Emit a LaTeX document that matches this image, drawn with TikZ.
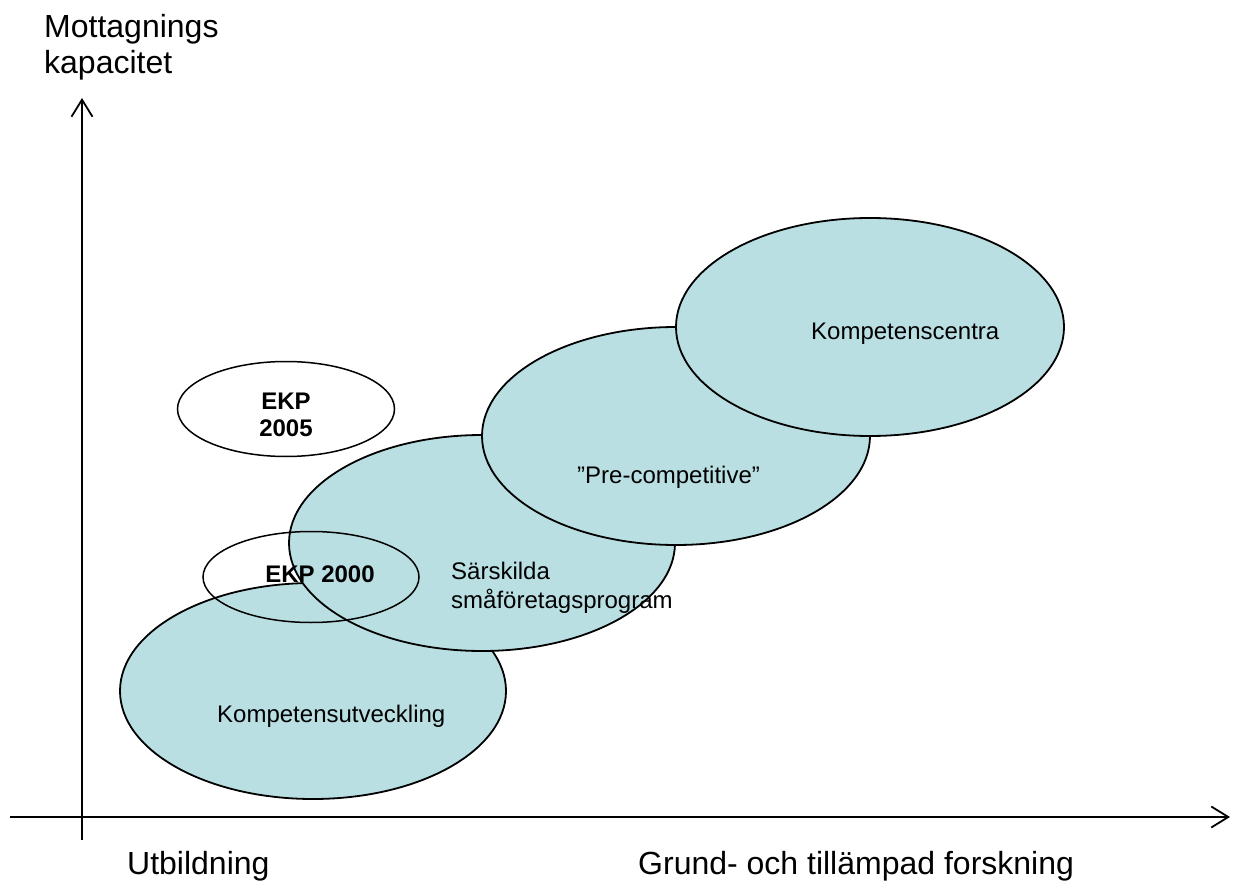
\documentclass[tikz,border=0pt]{standalone}
\usepackage{fontspec}
\setmainfont{Liberation Sans}
\usetikzlibrary{shapes.geometric,arrows.meta}
\definecolor{areafill}{RGB}{185,223,227}
\begin{document}
\begin{tikzpicture}[x=1pt,y=-1pt,
  axis/.style={line width=1.8pt,-{Straight Barb[length=17pt,width=21pt,line width=1.8pt]}},
  area/.style={ellipse,draw=black,line width=1.8pt,fill=areafill,inner sep=0pt},
  program/.style={ellipse,draw=black,line width=1.5pt,inner sep=0pt},
  axislabel/.style={font=\fontsize{32}{36}\selectfont,inner sep=0pt},
  arealabel/.style={font=\fontsize{24}{29}\selectfont,inner sep=0pt},
  programlabel/.style={font=\fontsize{24}{29}\selectfont\bfseries,inner sep=0pt}]
\useasboundingbox (0,0) rectangle (1244,882);

% axes
\coordinate (xstart) at (10,817);
\coordinate (xend) at (1230,817);
\coordinate (ystart) at (82,840);
\coordinate (yend) at (82,98);
\draw[axis] (xstart) -- (xend);
\draw[axis] (ystart) -- (yend);

% overlapping programme areas, lower left to upper right
\node[area,minimum width=386pt,minimum height=216pt] (komp) at (313,691) {};
\node[area,minimum width=386pt,minimum height=216pt] (sarsk) at (482,543) {};
\node[area,minimum width=388pt,minimum height=218pt] (precomp) at (676,436) {};
\node[area,minimum width=388pt,minimum height=218pt] (centra) at (870,327) {};

% EKP programmes (outline only)
\node[program,minimum width=216pt,minimum height=91pt] (ekp2000) at (311,577) {};
\node[program,minimum width=217pt,minimum height=95pt] (ekp2005) at (286,409) {};

% axis labels
\node[axislabel,anchor=base west] (ylab1) at (44,37.3) {Mottagnings};
\node[axislabel,anchor=base west] (ylab2) at (44,73.3) {kapacitet};
\node[axislabel,anchor=base west] (xlab1) at (127,874) {Utbildning};
\node[axislabel,anchor=base west] (xlab2) at (638,874) {Grund- och tillämpad forskning};

% area labels
\node[arealabel,anchor=base west] (kompl) at (217,722.3) {Kompetensutveckling};
\node[arealabel,anchor=base west] (sarskl1) at (451,579.3) {Särskilda};
\node[arealabel,anchor=base west] (sarskl2) at (451,608.3) {småföretagsprogram};
\node[arealabel,anchor=base west] (precompl) at (577,483.3) {”Pre-competitive”};
\node[arealabel,anchor=base west] (central) at (811,339) {Kompetenscentra};

% programme labels
\node[programlabel,anchor=base] (ekp2000l) at (320,582.7) {EKP 2000};
\node[programlabel,anchor=base] (ekp2005l1) at (286,409.3) {EKP};
\node[programlabel,anchor=base] (ekp2005l2) at (286,436.7) {2005};
\end{tikzpicture}
\end{document}
